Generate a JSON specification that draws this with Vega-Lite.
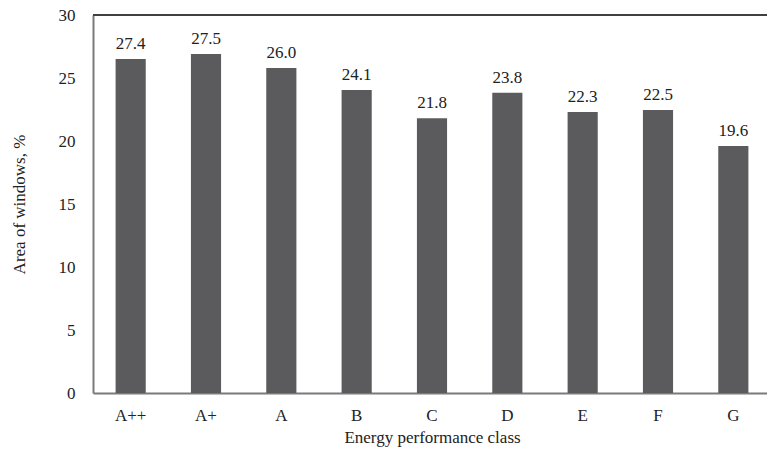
{
  "$schema": "https://vega.github.io/schema/vega-lite/v6.json",
  "autosize": {"type": "none"},
  "width": 678,
  "height": 378,
  "padding": {"left": 93, "top": 15, "right": 0, "bottom": 58},
  "background": "white",
  "config": {
    "view": {"stroke": null},
    "font": "Liberation Serif",
    "text": {"font": "Liberation Serif"},
    "axis": {"labelFont": "Liberation Serif", "titleFont": "Liberation Serif", "labelColor": "#222", "titleColor": "#222", "grid": false, "ticks": false}
  },
  "data": {
    "values": [
      {"cls": "A++", "value": 26.5, "label": "27.4"},
      {"cls": "A+", "value": 26.9, "label": "27.5"},
      {"cls": "A", "value": 25.8, "label": "26.0"},
      {"cls": "B", "value": 24.05, "label": "24.1"},
      {"cls": "C", "value": 21.8, "label": "21.8"},
      {"cls": "D", "value": 23.83, "label": "23.8"},
      {"cls": "E", "value": 22.3, "label": "22.3"},
      {"cls": "F", "value": 22.46, "label": "22.5"},
      {"cls": "G", "value": 19.6, "label": "19.6"}
    ]
  },
  "layer": [
    {
      "mark": {"type": "bar", "color": "#5b5b5d"},
      "encoding": {
        "x": {
          "field": "cls", "type": "nominal", "sort": null,
          "scale": {"paddingInner": 0.6, "paddingOuter": 0.3},
          "axis": {"title": "Energy performance class", "labelAngle": 0, "labelFontSize": 17, "titleFontSize": 17, "titleFontWeight": "normal", "labelPadding": 14, "titlePadding": 6, "domainColor": "#7a7a7a", "domainWidth": 2}
        },
        "y": {
          "field": "value", "type": "quantitative",
          "scale": {"domain": [0, 30]},
          "axis": {"title": "Area of windows, %", "values": [0, 5, 10, 15, 20, 25, 30], "labelFontSize": 17, "titleFontSize": 17, "titleFontWeight": "normal", "labelPadding": 18, "titlePadding": 30, "domainColor": "#7a7a7a", "domainWidth": 2}
        }
      }
    },
    {
      "mark": {"type": "text", "baseline": "bottom", "dy": -6, "fontSize": 17, "color": "#222", "font": "Liberation Serif"},
      "encoding": {
        "x": {"field": "cls", "type": "nominal", "sort": null},
        "y": {"field": "value", "type": "quantitative"},
        "text": {"field": "label"}
      }
    },
    {
      "mark": {"type": "rule", "color": "#404040", "strokeWidth": 2},
      "encoding": {"y": {"datum": 30}}
    }
  ]
}
